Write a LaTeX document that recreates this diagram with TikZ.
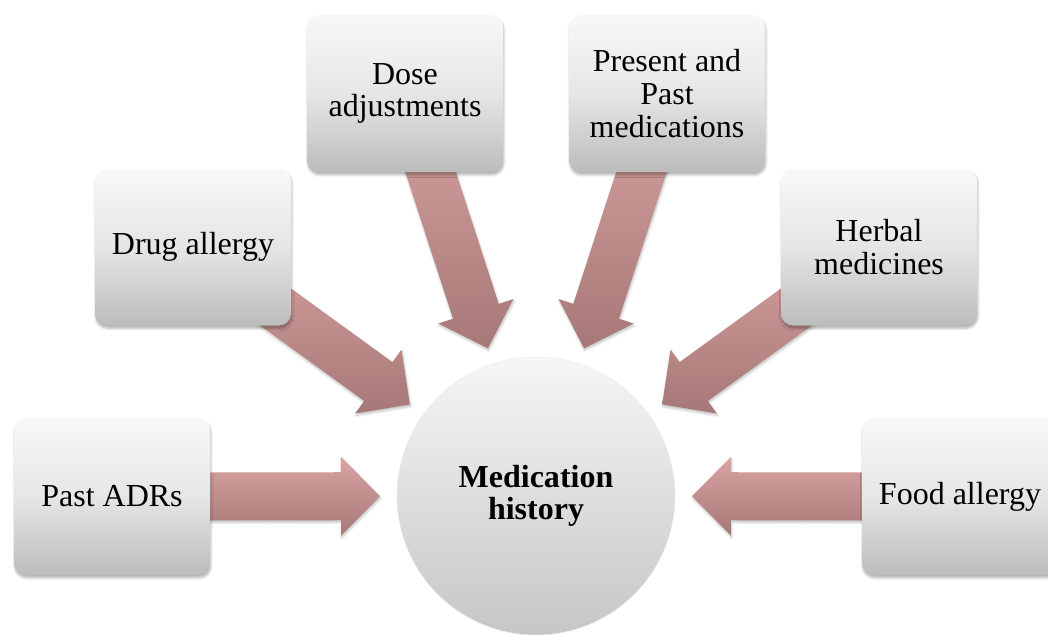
\documentclass[tikz,border=0pt]{standalone}
\usepackage{fontspec}
\setmainfont{Liberation Serif}
\usetikzlibrary{calc,shadows.blur,backgrounds}
\definecolor{boxtop}{RGB}{248,248,248}
\definecolor{boxmid}{RGB}{230,230,230}
\definecolor{boxbot}{RGB}{188,188,188}
\definecolor{hubtop}{RGB}{246,246,246}
\definecolor{hubbot}{RGB}{198,198,198}
\definecolor{arrtop}{RGB}{218,164,163}
\definecolor{arrbot}{RGB}{166,120,119}
\newcommand\blockarrow[2]{%
  \coordinate (h) at ($(#2)!29.25pt!(#1)$);
  \path[blockarr] ($(#1)!18pt!90:(#2)$) -- ($(h)!18pt!90:(#2)$) -- ($(h)!29.6pt!90:(#2)$) -- (#2)
    -- ($(h)!29.6pt!-90:(#2)$) -- ($(h)!18pt!-90:(#2)$) -- ($(#1)!18pt!-90:(#2)$) -- cycle;
}
\begin{document}
\begin{tikzpicture}[x=0.75pt,y=-0.75pt,
  box/.style={rectangle, rounded corners=9pt, minimum width=147pt, minimum height=117.75pt,
    inner sep=0pt, top color=boxtop, bottom color=boxbot, middle color=boxmid,
    align=center, font=\fontsize{24}{24.5}\selectfont,
    blur shadow={shadow xshift=0.6pt, shadow yshift=-2.2pt, shadow blur steps=6, shadow opacity=30, shadow blur radius=1.8pt}},
  hub/.style={circle, minimum size=208.5pt, inner sep=0pt, top color=hubtop, bottom color=hubbot,
    draw=gray!15, align=center, font=\bfseries\fontsize{24}{24.5}\selectfont},
  blockarr/.style={top color=arrtop, bottom color=arrbot,
    blur shadow={shadow xshift=0.5pt, shadow yshift=-1.5pt, shadow blur steps=5, shadow opacity=25, shadow blur radius=1.8pt}}]
\useasboundingbox (0,0) rectangle (1048,635);
\clip (0,0) rectangle (1048,635);
\node[hub] (mh) at (536,496) {Medication\\history};
\node[box] (pa) at (112,496.5) {Past ADRs};
\node[box] (da) at (193,247) {Drug allergy};
\node[box] (dose) at (405,93.5) {Dose\\adjustments};
\node[box] (pp) at (667,93.5) {Present and\\Past\\medications};
\node[box] (hm) at (879,247) {Herbal\\medicines};
\node[box] (fa) at (960,496.5) {Food allergy};
\foreach \b in {pa,da,dose,pp,hm,fa} {
  \coordinate (\b-tip) at ($(\b.center)!201pt!(mh.center)$);
}
\begin{scope}[on background layer]
\foreach \b in {pa,da,dose,pp,hm,fa} {
  \blockarrow{\b.center}{\b-tip}
}
\end{scope}
\end{tikzpicture}
\end{document}
